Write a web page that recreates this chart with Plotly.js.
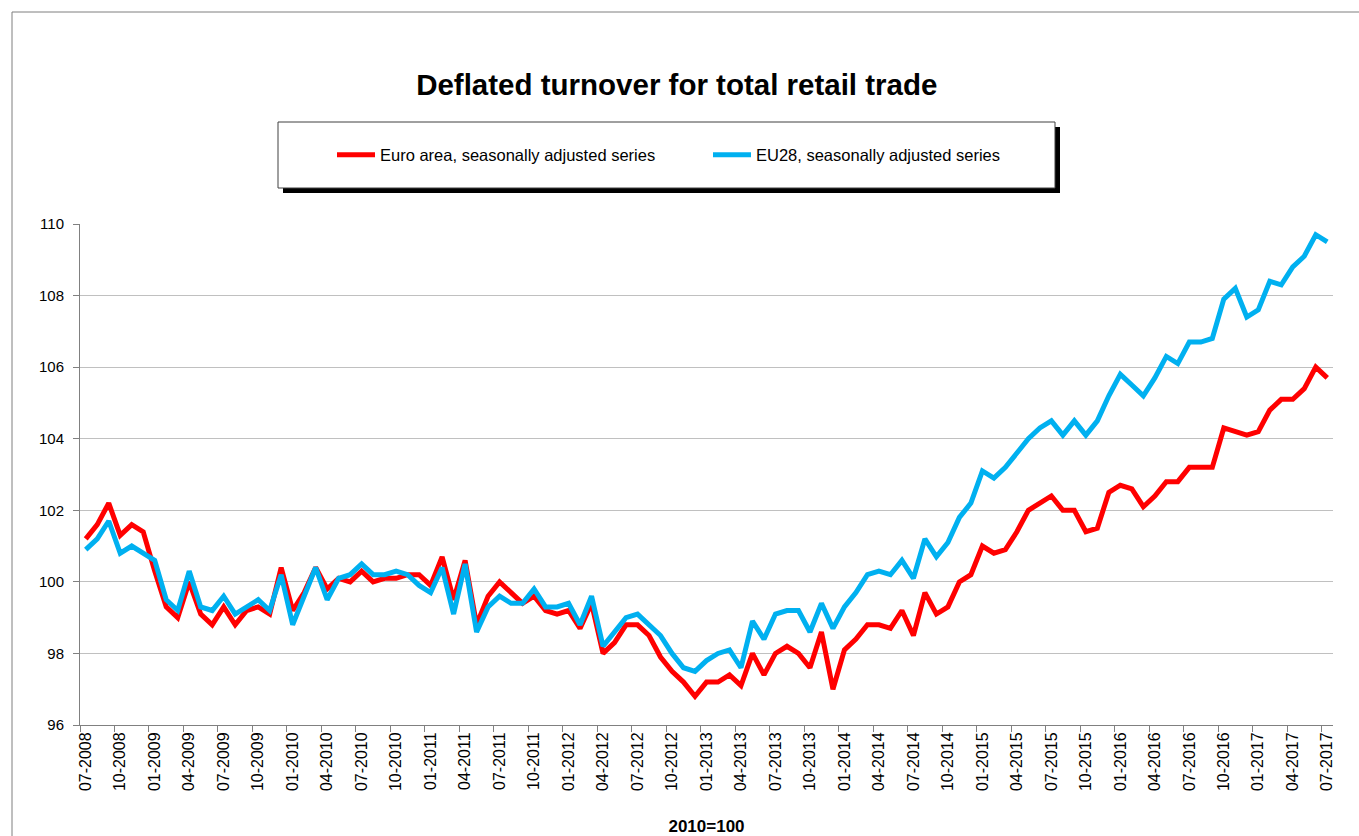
<!DOCTYPE html>
<html>
<head>
<meta charset="utf-8">
<script src="https://cdn.plot.ly/plotly-3.0.1.min.js"></script>
<style>html,body{margin:0;padding:0;background:#fff;}#chart{width:1359px;height:836px;}</style>
</head>
<body>
<div id="chart"></div>
<script>
var months = [
"07-2008","08-2008","09-2008","10-2008","11-2008","12-2008",
"01-2009","02-2009","03-2009","04-2009","05-2009","06-2009","07-2009","08-2009","09-2009","10-2009","11-2009","12-2009",
"01-2010","02-2010","03-2010","04-2010","05-2010","06-2010","07-2010","08-2010","09-2010","10-2010","11-2010","12-2010",
"01-2011","02-2011","03-2011","04-2011","05-2011","06-2011","07-2011","08-2011","09-2011","10-2011","11-2011","12-2011",
"01-2012","02-2012","03-2012","04-2012","05-2012","06-2012","07-2012","08-2012","09-2012","10-2012","11-2012","12-2012",
"01-2013","02-2013","03-2013","04-2013","05-2013","06-2013","07-2013","08-2013","09-2013","10-2013","11-2013","12-2013",
"01-2014","02-2014","03-2014","04-2014","05-2014","06-2014","07-2014","08-2014","09-2014","10-2014","11-2014","12-2014",
"01-2015","02-2015","03-2015","04-2015","05-2015","06-2015","07-2015","08-2015","09-2015","10-2015","11-2015","12-2015",
"01-2016","02-2016","03-2016","04-2016","05-2016","06-2016","07-2016","08-2016","09-2016","10-2016","11-2016","12-2016",
"01-2017","02-2017","03-2017","04-2017","05-2017","06-2017","07-2017"
];

var euroArea = [
101.2,101.6,102.2,101.3,101.6,101.4,
100.3,99.3,99.0,100.0,99.1,98.8,99.3,98.8,99.2,99.3,99.1,100.4,
99.2,99.7,100.4,99.8,100.1,100.0,100.3,100.0,100.1,100.1,100.2,100.2,
99.9,100.7,99.5,100.6,98.8,99.6,100.0,99.7,99.4,99.6,99.2,99.1,
99.2,98.7,99.4,98.0,98.3,98.8,98.8,98.5,97.9,97.5,97.2,96.8,
97.2,97.2,97.4,97.1,98.0,97.4,98.0,98.2,98.0,97.6,98.6,97.0,
98.1,98.4,98.8,98.8,98.7,99.2,98.5,99.7,99.1,99.3,100.0,100.2,
101.0,100.8,100.9,101.4,102.0,102.2,102.4,102.0,102.0,101.4,101.5,102.5,
102.7,102.6,102.1,102.4,102.8,102.8,103.2,103.2,103.2,104.3,104.2,104.1,
104.2,104.8,105.1,105.1,105.4,106.0,105.7
];

var eu28 = [
100.9,101.2,101.7,100.8,101.0,100.8,
100.6,99.5,99.2,100.3,99.3,99.2,99.6,99.1,99.3,99.5,99.2,100.2,
98.8,99.6,100.4,99.5,100.1,100.2,100.5,100.2,100.2,100.3,100.2,99.9,
99.7,100.4,99.1,100.5,98.6,99.3,99.6,99.4,99.4,99.8,99.3,99.3,
99.4,98.8,99.6,98.2,98.6,99.0,99.1,98.8,98.5,98.0,97.6,97.5,
97.8,98.0,98.1,97.6,98.9,98.4,99.1,99.2,99.2,98.6,99.4,98.7,
99.3,99.7,100.2,100.3,100.2,100.6,100.1,101.2,100.7,101.1,101.8,102.2,
103.1,102.9,103.2,103.6,104.0,104.3,104.5,104.1,104.5,104.1,104.5,105.2,
105.8,105.5,105.2,105.7,106.3,106.1,106.7,106.7,106.8,107.9,108.2,107.4,
107.6,108.4,108.3,108.8,109.1,109.7,109.5
];

var seriesNames = ["Euro area, seasonally adjusted series", "EU28, seasonally adjusted series"];
var chartTitle = "Deflated turnover for total retail trade";
var xTitle = "2010=100";

var FONT = "Liberation Sans, Arial, sans-serif";
// plot area in pixels
var L = 80, R = 1333, T = 224, B = 725;
function px(x){ return (x - L) / (R - L); }
function py(y){ return (B - y) / (B - T); }

var traces = [
  {x: months, y: euroArea, name: seriesNames[0], type: 'scatter', mode: 'lines',
   line: {color: '#FF0000', width: 5}, legend: 'legend'},
  {x: months, y: eu28, name: seriesNames[1], type: 'scatter', mode: 'lines',
   line: {color: '#00B0F0', width: 5}, legend: 'legend2'}
];

var layout = {
  width: 1359, height: 836,
  margin: {l: L, r: 1359 - R, t: T, b: 836 - B, pad: 0},
  paper_bgcolor: '#ffffff', plot_bgcolor: '#ffffff',
  font: {family: FONT, color: '#000000', size: 14},
  title: {text: '<b>' + chartTitle + '</b>', font: {family: FONT, size: 29.5, color: '#000'},
          xref: 'container', yref: 'container', x: 0.498, xanchor: 'center', y: 1 - 85/836, yanchor: 'middle'},
  showlegend: true,
  legend: {x: px(332), y: py(155), xanchor: 'left', yanchor: 'middle', orientation: 'h',
           bgcolor: 'rgba(0,0,0,0)', borderwidth: 0, font: {family: FONT, size: 16.5, color: '#000'}, itemwidth: 38},
  legend2: {x: px(708), y: py(155), xanchor: 'left', yanchor: 'middle', orientation: 'h',
           bgcolor: 'rgba(0,0,0,0)', borderwidth: 0, font: {family: FONT, size: 16.5, color: '#000'}, itemwidth: 38},
  xaxis: {
    type: 'category', range: [-0.5, 108.5], tickmode: 'linear', tick0: 0, dtick: 3,
    tickson: 'boundaries', ticks: 'outside', ticklen: 6, tickcolor: '#808080', tickwidth: 1,
    tickangle: -90, tickfont: {family: FONT, size: 16, color: '#000'},
    showgrid: false, showline: true, linecolor: '#808080', linewidth: 1, zeroline: false,
    title: {text: '<b>' + xTitle + '</b>', font: {family: FONT, size: 17, color: '#000'}, standoff: 31},
    fixedrange: true
  },
  yaxis: {
    range: [96, 110], tickmode: 'linear', tick0: 96, dtick: 2,
    ticks: 'outside', ticklen: 6, tickcolor: '#808080', tickwidth: 1, ticklabelstandoff: 6,
    tickfont: {family: FONT, size: 15, color: '#000'},
    showgrid: true, gridcolor: '#c0c0c0', gridwidth: 1,
    showline: true, linecolor: '#808080', linewidth: 1, zeroline: false, fixedrange: true
  },
  shapes: [
    // outer frame (top and left)
    {type: 'line', xref: 'paper', yref: 'paper', x0: px(12), x1: px(1359), y0: py(12), y1: py(12), line: {color: '#7f7f7f', width: 1}},
    {type: 'line', xref: 'paper', yref: 'paper', x0: px(12), x1: px(12), y0: py(12), y1: py(836), line: {color: '#7f7f7f', width: 1}},
    // legend shadow
    {type: 'rect', xref: 'paper', yref: 'paper', x0: px(283), x1: px(1060), y0: py(193), y1: py(127), fillcolor: '#000000', line: {width: 0}},
    // legend box
    {type: 'rect', xref: 'paper', yref: 'paper', x0: px(278), x1: px(1055), y0: py(188), y1: py(122), fillcolor: '#ffffff', line: {color: '#404040', width: 1}}
  ]
};

Plotly.newPlot('chart', traces, layout, {displayModeBar: false, staticPlot: true});
</script>
</body>
</html>
